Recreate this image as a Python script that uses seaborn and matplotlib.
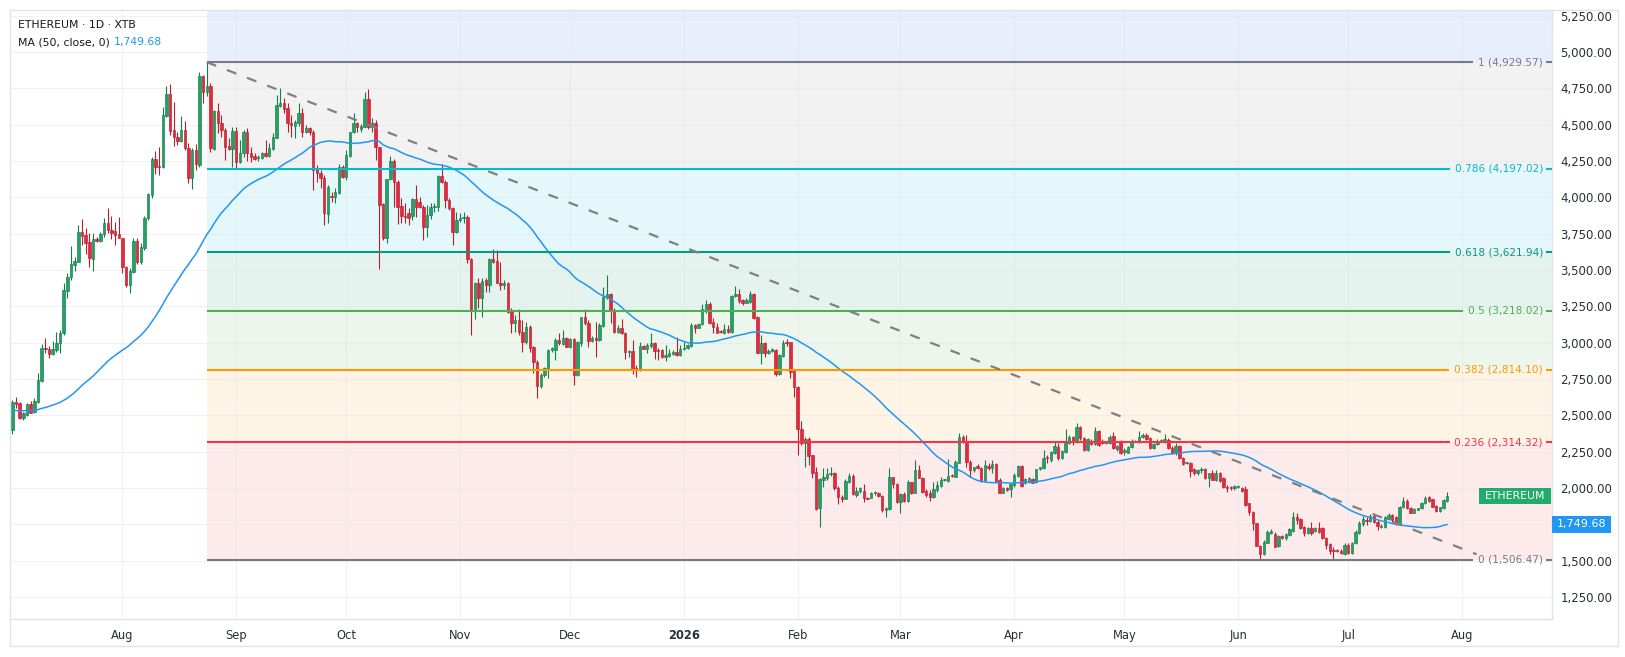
import numpy as np
import pandas as pd
import matplotlib
matplotlib.use("Agg")
import matplotlib.pyplot as plt
import seaborn as sns
from matplotlib.patches import Rectangle

# ---------------- data ----------------
start_date = "2025-07-02"

opens = [
2398,2593,2586,2483,2500,2577,2524,2593,2738,2962,
2955,2921,2950,2995,3064,3357,3453,3534,3557,3759,
3740,3690,3575,3711,3700,3745,3821,3775,3768,3747,
3717,3518,3396,3488,3699,3557,3649,3855,4016,4263,
4210,4206,4562,4711,4463,4413,4390,4463,4337,4135,
4325,4222,4835,4727,4766,4330,4594,4509,4463,4353,
4330,4456,4245,4307,4451,4302,4284,4268,4268,4302,
4284,4332,4410,4630,4646,4612,4513,4491,4514,4578,
4451,4474,4451,4192,4165,4130,3885,4010,4000,4032,
4211,4137,4284,4451,4509,4467,4486,4674,4486,4513,
4344,3954,3717,4123,4250,4103,3940,3871,3890,3871,
3986,3970,3935,3798,3880,3930,3935,4146,4107,3981,
3924,3763,3844,3855,3866,3573,3229,3408,3304,3430,
3396,3573,3564,3412,3396,3408,3224,3137,3155,3075,
3006,3109,2967,2869,2703,2777,2823,2949,2949,3018,
2990,3029,2972,3022,2777,2999,3178,3132,3013,3029,
3018,3114,3304,3334,3224,3075,3098,3064,2937,2944,
2823,2811,2976,2953,2976,3000,2949,2949,2903,2907,
2921,2937,2914,2953,2960,2976,3121,3102,3128,3224,
3265,3144,3109,3075,3064,3091,3075,3320,3334,3293,
3275,3282,3334,3174,2931,2995,2931,2944,2949,2784,
2908,3006,3006,2804,2692,2403,2307,2334,2226,2107,
1859,2054,2066,2095,2105,2001,1940,1926,2043,2082,
1951,1978,1981,1933,1933,1962,1967,1946,1848,1852,
2073,2024,1905,1958,1910,2043,1967,2123,2066,1981,
1962,1935,1985,2013,2054,2050,2087,2077,2174,2352,
2318,2180,2123,2150,2135,2054,2150,2135,2164,2054,
1967,2001,1990,2020,2082,2150,2036,2043,2059,2043,
2128,2135,2215,2192,2242,2284,2203,2249,2311,2348,
2318,2421,2341,2261,2325,2302,2394,2325,2311,2307,
2357,2265,2325,2249,2242,2279,2325,2318,2348,2364,
2341,2272,2302,2325,2325,2330,2272,2238,2288,2203,
2169,2174,2128,2100,2125,2128,2066,2105,2054,2105,
2066,2004,2001,1997,2004,2001,1990,1894,1836,1756,
1600,1545,1623,1692,1680,1600,1669,1653,1676,1706,
1797,1783,1729,1687,1722,1705,1726,1722,1653,1614,
1572,1572,1568,1545,1607,1550,1618,1687,1752,1779,
1775,1806,1768,1729,1733,1784,1813,1797,1752,1867,
1912,1865,1830,1848,1859,1894,1935,1921,1875,1843,
1859,1912]

highs = [
2604,2627,2593,2525,2582,2600,2620,2788,2990,3029,
2976,3011,3075,3087,3412,3476,3665,3590,3809,3848,
3786,3756,3756,3730,3763,3855,3924,3871,3832,3862,
3717,3527,3510,3717,3717,3683,3871,4027,4279,4318,
4348,4624,4766,4780,4658,4451,4559,4525,4371,4337,
4364,4864,4841,4930,4785,4601,4651,4566,4474,4406,
4486,4486,4394,4463,4474,4348,4302,4290,4314,4394,
4371,4440,4704,4750,4681,4646,4566,4532,4646,4612,
4497,4486,4463,4222,4188,4153,4085,4039,4062,4227,
4222,4325,4451,4578,4520,4502,4727,4743,4543,4532,
4344,3963,4123,4284,4261,4119,3993,3958,3924,3993,
4085,4004,3947,3947,3963,3958,4153,4227,4119,3993,
3935,3901,3889,3901,3880,3580,3419,3442,3442,3442,
3580,3642,3637,3557,3430,3419,3236,3190,3229,3155,
3144,3121,2976,2880,2788,2834,2953,2972,3029,3064,
3087,3041,3029,3029,3013,3178,3229,3155,3045,3144,
3133,3385,3465,3339,3236,3121,3160,3075,2949,3018,
2846,3006,2983,2995,3068,3006,2960,2953,2983,2953,
2949,3041,2983,3006,2990,3133,3125,3137,3265,3293,
3282,3167,3137,3086,3128,3121,3327,3389,3366,3298,
3304,3357,3339,3183,3052,3006,2953,2960,2954,2921,
3018,3022,3006,2811,2701,2463,2353,2353,2226,2146,
2066,2135,2135,2141,2112,2013,1951,2059,2100,2096,
2008,2004,2027,1940,1974,1981,1974,1951,1870,2135,
2077,2031,1967,1974,2054,2043,2192,2157,2077,1990,
1985,2043,2047,2077,2061,2196,2096,2192,2380,2364,
2364,2192,2146,2162,2146,2192,2169,2192,2169,2066,
2008,2008,2036,2100,2157,2157,2066,2073,2066,2128,
2146,2261,2226,2256,2318,2307,2261,2403,2364,2357,
2449,2426,2352,2341,2334,2417,2399,2334,2318,2364,
2387,2295,2330,2272,2288,2334,2330,2394,2375,2375,
2348,2311,2334,2334,2370,2341,2288,2307,2295,2215,
2180,2180,2135,2128,2141,2135,2105,2123,2123,2112,
2073,2020,2013,2020,2020,2008,2013,1898,1843,1760,
1607,1641,1710,1715,1699,1676,1676,1692,1722,1836,
1829,1790,1738,1729,1768,1733,1768,1733,1660,1619,
1591,1580,1577,1618,1618,1630,1710,1775,1806,1797,
1820,1813,1779,1752,1806,1825,1820,1806,1875,1935,
1921,1870,1859,1859,1905,1944,1944,1926,1882,1866,
1921,1974]

lows = [
2371,2547,2472,2470,2495,2512,2513,2581,2731,2926,
2892,2914,2938,2926,3052,3304,3430,3495,3552,3672,
3610,3518,3495,3690,3694,3724,3752,3710,3672,3717,
3481,3385,3343,3481,3541,3538,3637,3843,3997,4160,
4153,4199,4555,4429,4353,4360,4383,4325,4100,4055,
4188,4211,4646,4697,4314,4325,4440,4417,4257,4325,
4211,4199,4234,4280,4252,4245,4257,4250,4261,4280,
4280,4325,4406,4624,4578,4451,4417,4410,4490,4417,
4440,4428,4050,4107,4062,3809,3821,3970,3958,4022,
4130,4119,4275,4440,4451,4451,4481,4467,4451,4256,
3504,3706,3688,4119,3935,3816,3821,3821,3809,3843,
3866,3924,3706,3724,3850,3900,3908,4096,3924,3912,
3672,3752,3832,3820,3545,3052,3160,3236,3178,3350,
3350,3545,3412,3362,3370,3206,3063,3075,3052,2937,
2990,2937,2793,2616,2685,2765,2754,2937,2880,2983,
2983,2967,2960,2708,2770,2976,3121,2972,3006,2903,
3013,3110,3298,3137,3064,3064,3059,2885,2903,2784,
2765,2807,2953,2930,2960,2885,2880,2892,2876,2898,
2914,2907,2907,2949,2953,2972,3068,3098,3121,3201,
3128,3068,3064,3064,3059,3068,3068,3311,3270,3259,
3270,3275,3160,2926,2853,2903,2921,2935,2770,2777,
2903,2976,2754,2623,2226,2295,2146,2157,2066,1848,
1733,2008,2054,2082,1985,1889,1905,1921,2031,1951,
1940,1962,1905,1921,1928,1951,1935,1836,1797,1848,
1997,1894,1830,1905,1905,1958,1962,2066,1962,1940,
1912,1928,1974,2004,2047,2043,2077,2073,2169,2307,
2146,2077,2112,2128,2043,2043,2123,2100,2043,1962,
1962,1978,1935,2008,2077,2008,2027,2031,2031,2036,
2123,2128,2169,2180,2233,2192,2196,2242,2302,2295,
2311,2330,2256,2256,2295,2295,2288,2300,2305,2302,
2265,2256,2233,2226,2238,2272,2315,2311,2341,2330,
2265,2265,2295,2320,2307,2265,2233,2226,2196,2157,
2162,2073,2089,2089,2105,2059,2004,2054,2050,2043,
1997,1974,1985,1985,1997,1974,1875,1813,1710,1600,
1506,1538,1618,1683,1591,1595,1646,1641,1669,1699,
1751,1715,1669,1683,1676,1699,1692,1646,1577,1545,
1508,1560,1545,1538,1545,1545,1614,1683,1738,1745,
1768,1760,1710,1722,1726,1779,1768,1745,1745,1859,
1852,1825,1825,1845,1852,1889,1905,1866,1836,1836,
1852,1905]

closes = [
2593,2580,2483,2513,2575,2518,2598,2742,2965,2958,
2921,2956,2995,3068,3362,3453,3538,3561,3759,3736,
3688,3580,3711,3702,3747,3821,3775,3756,3740,3717,
3518,3396,3495,3699,3557,3655,3855,4020,4263,4206,
4206,4566,4711,4458,4413,4390,4463,4337,4135,4325,
4227,4835,4727,4766,4337,4594,4509,4463,4348,4330,
4456,4245,4307,4451,4302,4280,4261,4275,4302,4284,
4337,4412,4635,4646,4607,4509,4497,4520,4578,4451,
4474,4451,4188,4165,4130,3890,4073,4000,4039,4211,
4137,4291,4451,4509,4481,4490,4674,4481,4513,4344,
3947,3717,4123,4250,4103,3935,3871,3867,3855,3986,
3931,3931,3798,3880,3930,3940,4146,4107,3981,3924,
3763,3844,3855,3866,3573,3229,3408,3304,3426,3396,
3573,3557,3412,3396,3408,3213,3137,3155,3075,3006,
3109,2960,2869,2703,2777,2823,2949,2960,3018,2995,
3029,2972,3022,2777,3006,3178,3132,3013,3029,3018,
3121,3311,3334,3220,3075,3098,3064,2937,2942,2818,
2818,2976,2958,2983,3000,2944,2944,2903,2915,2926,
2937,2914,2953,2960,2983,3121,3098,3128,3229,3265,
3137,3105,3068,3070,3091,3075,3320,3334,3288,3270,
3293,3334,3167,2931,2995,2931,2944,2954,2784,2914,
3000,2995,2800,2692,2403,2307,2334,2222,2105,1852,
2059,2077,2095,2105,2001,1940,1926,2047,2082,1956,
1978,1997,1933,1926,1962,1965,1944,1848,1859,2073,
2024,1905,1958,1910,2043,1967,2123,2066,1974,1951,
1935,1990,2020,2054,2057,2082,2079,2180,2348,2318,
2180,2123,2146,2140,2050,2157,2135,2164,2050,1967,
2001,1985,2024,2089,2150,2013,2059,2066,2036,2128,
2141,2203,2203,2249,2288,2203,2256,2318,2348,2318,
2421,2341,2261,2334,2302,2394,2295,2307,2318,2352,
2272,2288,2238,2261,2279,2325,2318,2352,2364,2334,
2272,2302,2325,2330,2334,2272,2238,2288,2203,2164,
2180,2119,2100,2123,2128,2066,2105,2054,2105,2050,
2004,1997,1997,2013,2013,1981,1882,1836,1756,1600,
1545,1630,1699,1705,1596,1669,1653,1683,1715,1802,
1779,1722,1687,1722,1692,1722,1699,1653,1607,1568,
1568,1566,1554,1607,1550,1623,1699,1756,1784,1775,
1806,1768,1738,1740,1797,1813,1779,1752,1871,1912,
1859,1830,1852,1859,1898,1928,1912,1871,1843,1866,
1917,1944]

# closes before the first visible candle (warm-up for the 50-day MA)
prior_closes = [2610,2550,2545,2480,2500,2520,2525,2550,2660,2525,
                2530,2550,2565,2660,2680,2630,2530,2530,2510,2610,
                2590,2610,2420,2480,2525,2510,2680,2810,2770,2640,
                2580,2530,2545,2550,2510,2525,2520,2410,2400,2230,
                2410,2450,2420,2420,2430,2440,2510,2490,2405]

fib_ratios = ["1", "0.786", "0.618", "0.5", "0.382", "0.236", "0"]
fib_levels = [4929.57, 4197.02, 3621.94, 3218.02, 2814.10, 2314.32, 1506.47]
fib_anchor_bar = 53
trend_x = [53, 399]
trend_y = [4929.57, 1543.0]

price_ticks = [1250, 1500, 1750, 2000, 2250, 2500, 2750, 3000, 3250,
               3500, 3750, 4000, 4250, 4500, 4750, 5000, 5250]
hidden_tick = 1750   # covered by the MA value tag in the reference
month_starts = ["2025-08-01", "2025-09-01", "2025-10-01", "2025-11-01",
                "2025-12-01", "2026-01-01", "2026-02-01", "2026-03-01",
                "2026-04-01", "2026-05-01", "2026-06-01", "2026-07-01",
                "2026-08-01"]
month_labels = ["Aug", "Sep", "Oct", "Nov", "Dec", "2026", "Feb", "Mar",
                "Apr", "May", "Jun", "Jul", "Aug"]

legend_title = "ETHEREUM · 1D · XTB"
legend_ma = "MA (50, close, 0)"
ma_value_text = "1,749.68"
ma_value = 1749.68
symbol_text = "ETHEREUM"

# ---------------- styles ----------------
line_colors = ["#787b86", "#00bcd4", "#089981", "#4caf50", "#ff9800", "#f23645", "#787b86"]
zone_colors = ["#e9eefc", "#f2f2f2", "#e4f7fa", "#e5f3ef", "#ecf6ec", "#fef4e6", "#fdebec"]
UP_FACE, UP_EDGE = "#22a266", "#157d4b"
DN_FACE, DN_EDGE = "#e7283c", "#b81e2e"
TXT = "#2a2e39"

W, H = 1625, 657
sns.set_style("white")
plt.rcParams["font.family"] = ["DejaVu Sans"]

fig = plt.figure(figsize=(W / 100, H / 100), dpi=100)
PL, PR, PT, PB = 10, 1552, 10, 619
ax = fig.add_axes([PL / W, 1 - PB / H, (PR - PL) / W, (PB - PT) / H])

# pixel calibration of the reference
def px_to_bar(x):
    return (x - 12.3) / 3.67

def py_to_price(y):
    return 1506.47 + (559.6 - y) * 6.882

xmin, xmax = px_to_bar(PL), px_to_bar(PR)
ymin, ymax = py_to_price(PB), py_to_price(PT)
ax.set_xlim(xmin, xmax)
ax.set_ylim(ymin, ymax)

o = np.array(opens, float)
h = np.array(highs, float)
l = np.array(lows, float)
c = np.array(closes, float)
h = np.maximum.reduce([h, o, c])
l = np.minimum.reduce([l, o, c])
n = len(c)
idx = np.arange(n)

t0 = pd.Timestamp(start_date)
month_pos = [(pd.Timestamp(m) - t0).days for m in month_starts]

# fib zones
bounds = [ymax] + fib_levels
for k, col in enumerate(zone_colors):
    ax.fill_between([fib_anchor_bar, xmax], bounds[k + 1], bounds[k],
                    color=col, lw=0, zorder=0.5)

# grid
for v in price_ticks:
    ax.axhline(v, color="#e3e6ec", lw=0.8, alpha=0.55, zorder=1)
for p in month_pos:
    ax.axvline(p, color="#e3e6ec", lw=0.8, alpha=0.55, zorder=1)

# candles
up = c >= o
ax.vlines(idx[up], l[up], h[up], color=UP_EDGE, lw=0.8, zorder=3)
ax.vlines(idx[~up], l[~up], h[~up], color=DN_EDGE, lw=0.8, zorder=3)
body_h = np.maximum(np.abs(c - o), 7)
body_b = np.minimum(o, c)
ax.bar(idx[up], body_h[up], bottom=body_b[up], width=0.66,
       color=UP_FACE, edgecolor=UP_EDGE, linewidth=0.45, zorder=4)
ax.bar(idx[~up], body_h[~up], bottom=body_b[~up], width=0.66,
       color=DN_FACE, edgecolor=DN_EDGE, linewidth=0.45, zorder=4)

# moving average
full = pd.Series(prior_closes + closes, dtype=float)
ma = full.rolling(50).mean().iloc[len(prior_closes):].to_numpy()
sns.lineplot(x=idx, y=ma, ax=ax, color="#2196f3", linewidth=1.1, zorder=5)

# fib labels and lines
ytr = ax.get_yaxis_transform()
labels = []
for r, v, col in zip(fib_ratios, fib_levels, line_colors):
    t = ax.text((1543 - PL) / (PR - PL), v, f"{r} ({v:,.2f})", transform=ytr,
                ha="right", va="center", color=col, fontsize=7.6, zorder=7)
    labels.append(t)
    ax.plot([(1546 - PL) / (PR - PL), 1.0], [v, v], transform=ytr, color=col,
            lw=1.5, solid_capstyle="butt", zorder=6, clip_on=False)
fig.canvas.draw()
inv = ax.transData.inverted()
for t, v, col in zip(labels, fib_levels, line_colors):
    bb = t.get_window_extent()
    xend = inv.transform((bb.x0 - 5, 0))[0]
    ax.plot([fib_anchor_bar, xend], [v, v], color=col, lw=1.5,
            solid_capstyle="butt", zorder=6)

# trend line
ax.plot(trend_x, trend_y, color="#808080", lw=1.6, dashes=(4.5, 5.2), zorder=6.5)

# axes styling
ax.yaxis.tick_right()
ax.set_yticks(price_ticks)
ax.set_yticklabels(["" if v == hidden_tick else f"{v:,.2f}" for v in price_ticks])
ax.set_xticks(month_pos)
ax.set_xticklabels(month_labels)
for lab in ax.get_xticklabels():
    if lab.get_text() == "2026":
        lab.set_fontweight("bold")
ax.tick_params(axis="y", length=0, pad=6, labelsize=8.5, colors=TXT)
ax.tick_params(axis="x", length=0, pad=7, labelsize=8.3, colors=TXT)
ax.set_xlabel("")
ax.set_ylabel("")
for s in ["top", "left"]:
    ax.spines[s].set_visible(False)
for s in ["right", "bottom"]:
    ax.spines[s].set_color("#e0e3eb")
    ax.spines[s].set_linewidth(1.0)

# last price box (inside plot) and MA value box (on the axis)
bh = 8.3 * 6.882
last = c[-1]
ax.add_patch(Rectangle(((1479 - PL) / (PR - PL), last - bh), (1551 - 1479) / (PR - PL), 2 * bh,
                       transform=ytr, color="#22ab6c", lw=0, zorder=8, clip_on=False))
ax.text((1515 - PL) / (PR - PL), last, symbol_text, transform=ytr, ha="center",
        va="center", color="white", fontsize=7.8, zorder=9)
ax.add_patch(Rectangle((1.0, ma_value - bh), (1611 - PR) / (PR - PL), 2 * bh,
                       transform=ytr, color="#2196f3", lw=0, zorder=8, clip_on=False))
ax.text((1581.5 - PL) / (PR - PL), ma_value, ma_value_text, transform=ytr, ha="center",
        va="center", color="white", fontsize=8.0, zorder=9)

# legend
fig.text(18 / W, 1 - 25 / H, legend_title, fontsize=7.8, color="#131722", va="center")
fig.text(18 / W, 1 - 42.5 / H, legend_ma, fontsize=7.8, color="#131722", va="center")
fig.text(114 / W, 1 - 42.5 / H, ma_value_text, fontsize=7.8, color="#2196f3", va="center")

# outer frame
fig.add_artist(Rectangle((PL / W, 1 - 646 / H), (1618 - PL) / W, (646 - PT) / H,
                         transform=fig.transFigure, fill=False, ec="#e0e3eb", lw=1.0))

fig.savefig("out.png", dpi=100, facecolor="white")
